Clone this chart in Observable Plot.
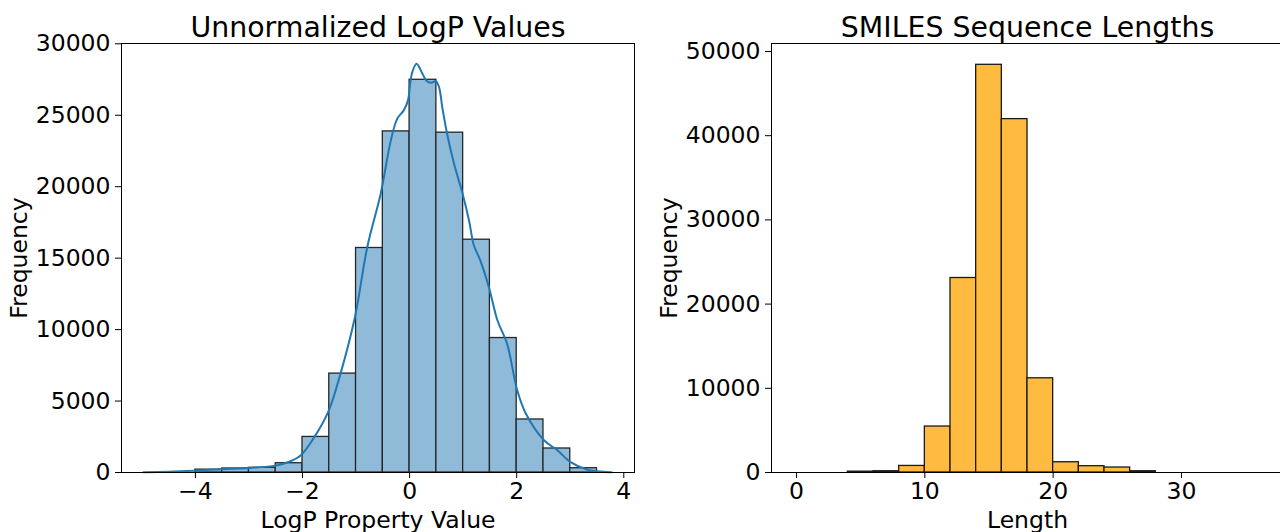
<!DOCTYPE html>
<html><head><meta charset="utf-8">
<script src="https://cdn.jsdelivr.net/npm/d3@7"></script>
<script src="https://cdn.jsdelivr.net/npm/@observablehq/plot@0.6"></script>
<style>
html,body{margin:0;padding:0;background:#fff;overflow:hidden;}
#wrap{position:relative;width:1280px;height:532px;overflow:hidden;background:#fff;}
#wrap svg{position:absolute;top:0;}
</style></head><body><div id="wrap"></div>
<script>
// LogP histogram (bin start, width 0.5)
const logpBinStart = [-4.0, -3.5, -3.0, -2.5, -2.0, -1.5, -1.0, -0.5, 0.0, 0.5, 1.0, 1.5, 2.0, 2.5, 3.0];
const logpBinWidth = 0.5;
const logpCounts = [200, 280, 330, 650, 2490, 6920, 15710, 23870, 27480, 23780, 16290, 9410, 3710, 1680, 300];

// KDE curve (scaled to counts)
const kdeX = [-4.97, -4.5, -4.0, -3.5, -3.0, -2.5, -2.25, -2.03, -1.8, -1.52, -1.29, -1.02, -0.79, -0.54, -0.35, -0.23, -0.11, -0.03, 0.01, 0.05, 0.13, 0.24, 0.32, 0.40, 0.49, 0.55, 0.61, 0.70, 0.83, 0.99, 1.11, 1.20, 1.32, 1.48, 1.64, 1.82, 2.01, 2.17, 2.51, 2.76, 3.0, 3.31, 3.77];
const kdeY = [20, 60, 130, 230, 320, 480, 750, 1210, 2350, 4240, 6920, 10880, 15780, 19510, 23240, 24760, 25340, 26040, 27200, 28010, 28600, 27900, 27390, 27270, 27390, 26970, 25570, 23710, 21610, 19510, 17640, 15900, 14840, 12980, 10650, 9020, 5755, 4130, 2260, 1560, 740, 210, 10];

// SMILES length histogram (bin start, width 2)
const lenBinStart = [4, 6, 8, 10, 12, 14, 16, 18, 20, 22, 24, 26];
const lenBinWidth = 2;
const lenCounts = [100, 150, 780, 5460, 23100, 48420, 41970, 11190, 1220, 750, 590, 150];

// Tick values
const leftYTicks = [0, 5000, 10000, 15000, 20000, 25000, 30000];
const leftXTicks = [-4, -2, 0, 2, 4];
const rightYTicks = [0, 10000, 20000, 30000, 40000, 50000];
const rightXTicks = [0, 10, 20, 30];

const font = "DejaVu Sans";
const fmt = d3.format("d");

const logpData = logpBinStart.map((x, i) => ({x1: x, x2: x + logpBinWidth, y: logpCounts[i]}));
const kdeData = kdeX.map((x, i) => ({x, y: kdeY[i]}));
const lenData = lenBinStart.map((x, i) => ({x1: x, x2: x + lenBinWidth, y: lenCounts[i]}));

const baseStyle = {fontFamily: font, fontSize: "23.5px", color: "black", background: "transparent", overflow: "visible"};

const left = Plot.plot({
  width: 640, height: 532,
  marginLeft: 121, marginRight: 6, marginTop: 43, marginBottom: 60,
  style: baseStyle,
  x: {domain: [-5.38, 4.20], ticks: leftXTicks, tickFormat: fmt, label: null, tickSize: 6, tickPadding: 4},
  y: {domain: [0, 30020], ticks: leftYTicks, tickFormat: fmt, label: null, tickSize: 6, tickPadding: 5},
  marks: [
    Plot.rectY(logpData, {x1: "x1", x2: "x2", y: "y", fill: "#8fbbd9", stroke: "#262626", strokeWidth: 1.3}),
    Plot.line(kdeData, {x: "x", y: "y", stroke: "#1f77b4", strokeWidth: 2, curve: "catmull-rom"}),
    Plot.frame({stroke: "black"}),
    Plot.text(["Unnormalized LogP Values"], {frameAnchor: "top", lineAnchor: "bottom", dy: -7, fontSize: 28.4}),
    Plot.text(["LogP Property Value"], {frameAnchor: "bottom", lineAnchor: "bottom", dy: 55, fontSize: 23.5}),
    Plot.text(["Frequency"], {frameAnchor: "left", rotate: -90, textAnchor: "middle", lineAnchor: "bottom", dx: -95, fontSize: 23.5})
  ]
});
left.style.left = "0px";

const right = Plot.plot({
  width: 643, height: 532,
  marginLeft: 131, marginRight: 0, marginTop: 43, marginBottom: 60,
  style: baseStyle,
  x: {domain: [-1.95, 37.95], ticks: rightXTicks, tickFormat: fmt, label: null, tickSize: 6, tickPadding: 4},
  y: {domain: [0, 50950], ticks: rightYTicks, tickFormat: fmt, label: null, tickSize: 6, tickPadding: 5},
  marks: [
    Plot.rectY(lenData, {x1: "x1", x2: "x2", y: "y", fill: "#ffbb40", stroke: "#1a1a1a", strokeWidth: 1.3}),
    Plot.frame({stroke: "black"}),
    Plot.text(["SMILES Sequence Lengths"], {frameAnchor: "top", lineAnchor: "bottom", dy: -7, fontSize: 28.4}),
    Plot.text(["Length"], {frameAnchor: "bottom", lineAnchor: "bottom", dy: 55, fontSize: 23.5}),
    Plot.text(["Frequency"], {frameAnchor: "left", rotate: -90, textAnchor: "middle", lineAnchor: "bottom", dx: -95, fontSize: 23.5})
  ]
});
right.style.left = "640px";

const wrap = document.getElementById("wrap");
wrap.appendChild(left);
wrap.appendChild(right);
</script>
</body></html>
